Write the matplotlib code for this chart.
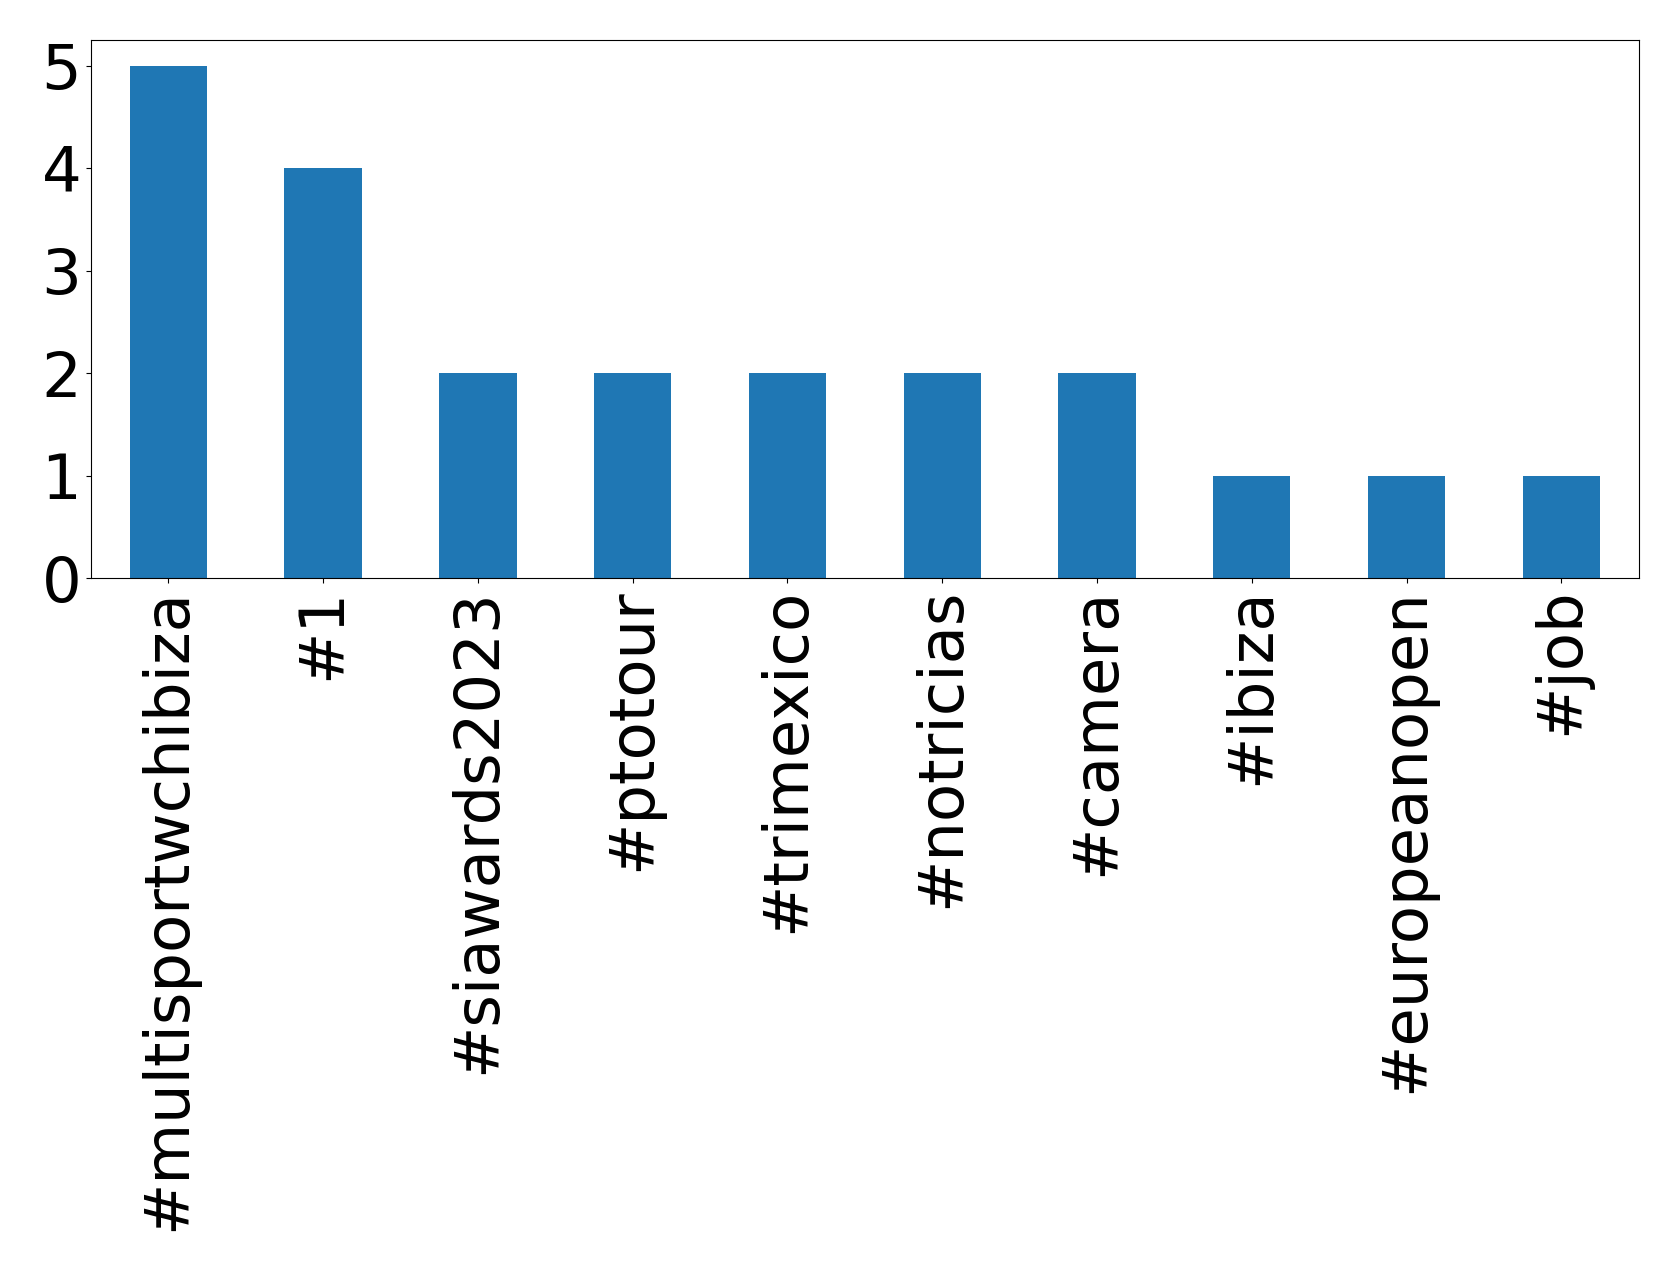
import matplotlib
matplotlib.use('Agg')
import matplotlib.pyplot as plt
import pandas as pd

# hashtag counts
tags = ['#multisportwchibiza', '#1', '#siawards2023', '#ptotour', '#trimexico',
        '#notricias', '#camera', '#ibiza', '#europeanopen', '#job']
counts = [5, 4, 2, 2, 2, 2, 2, 1, 1, 1]

s = pd.Series(counts, index=tags)

fig = plt.figure(figsize=(16.79, 12.71), dpi=100)
ax = fig.add_axes([0.0542, 0.5452, 0.9218, 0.4233])
s.plot(kind='bar', ax=ax, color='#1f77b4')
ax.tick_params(axis='both', labelsize=45)
ax.set_yticks([0, 1, 2, 3, 4, 5])

fig.savefig('out.png', dpi=100)
plt.close()
